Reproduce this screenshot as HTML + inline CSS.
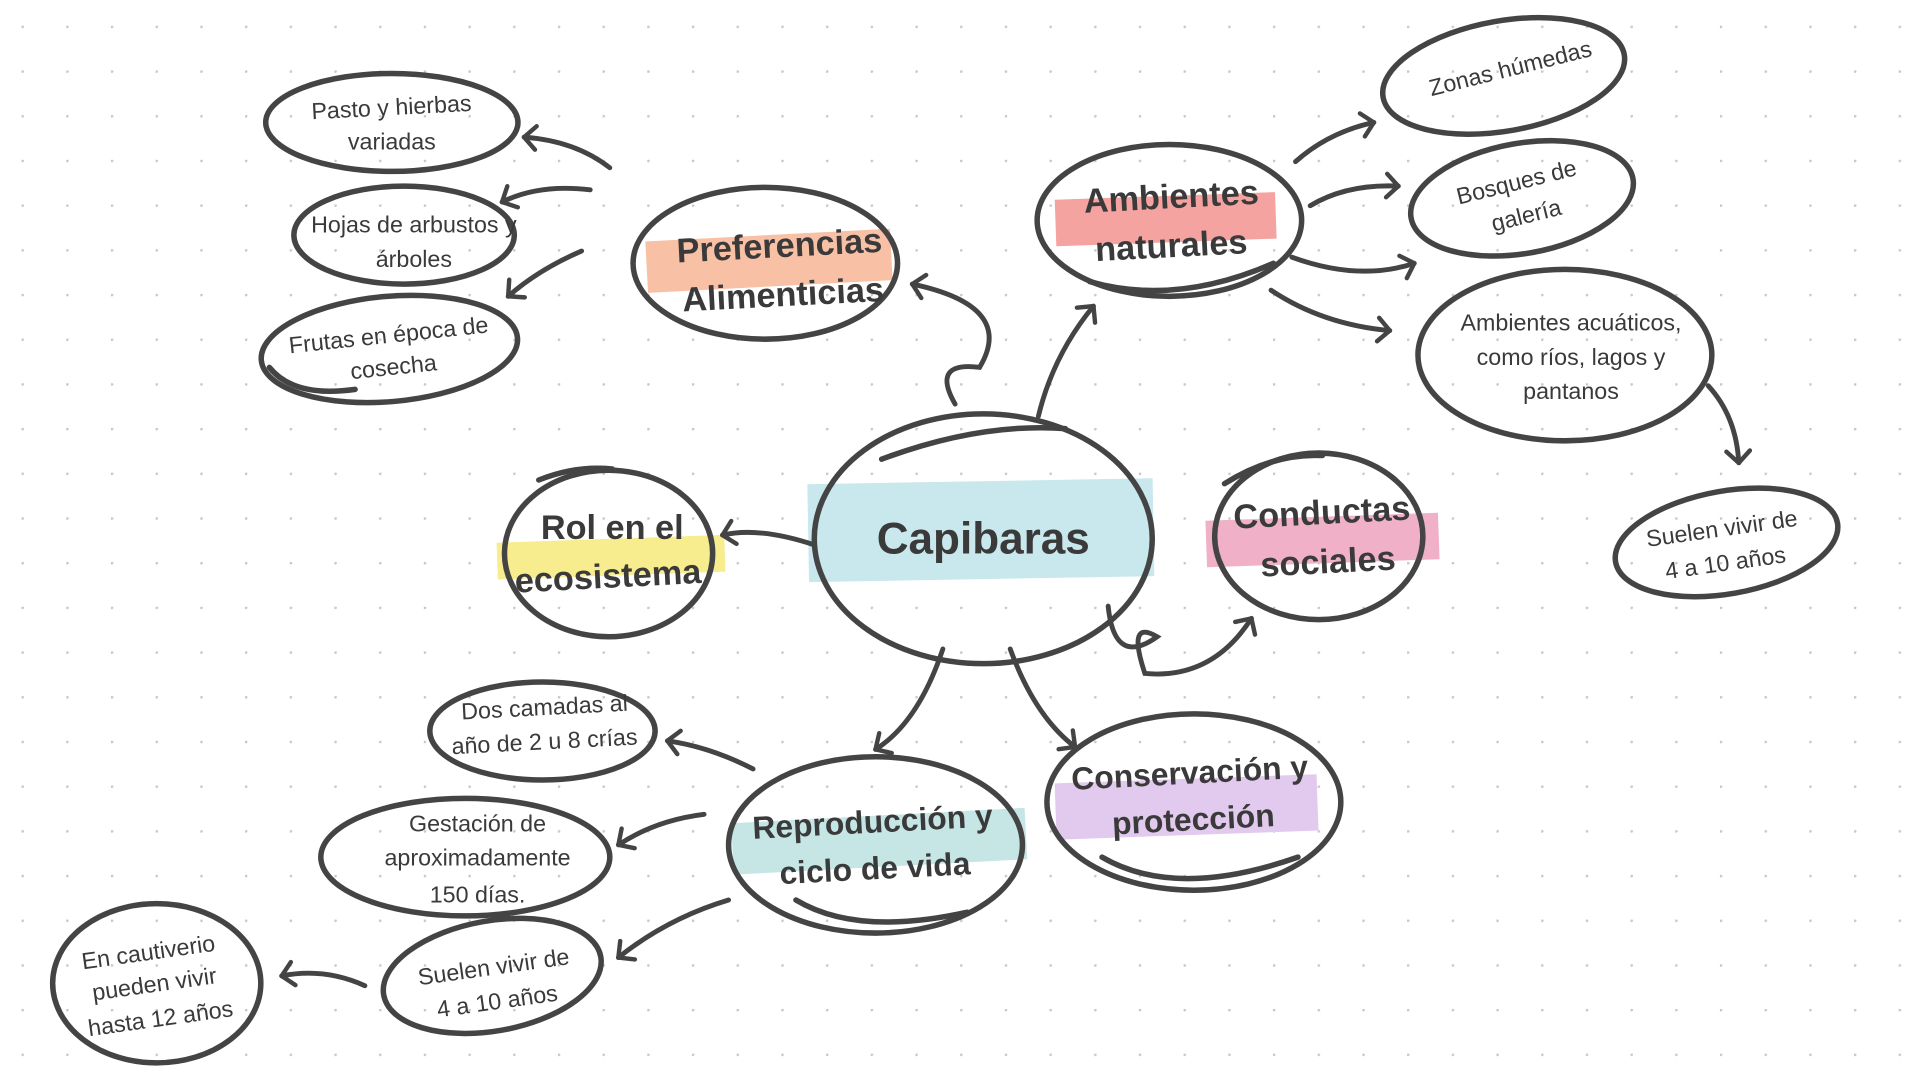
<!DOCTYPE html>
<html><head><meta charset="utf-8"><style>
html,body{margin:0;padding:0;background:#fff;}
svg{display:block}
text{font-family:"Liberation Sans Narrow","Liberation Sans",sans-serif;fill:#3a3a3a;text-anchor:middle;}
</style></head><body>
<svg width="1920" height="1080" viewBox="0 0 1568 882" xmlns="http://www.w3.org/2000/svg">
<defs>
<pattern id="dots" x="17.6" y="21" width="36.5" height="36.5" patternUnits="userSpaceOnUse">
<circle cx="0.8" cy="0.8" r="1.2" fill="#c8c8c8"/></pattern>
<marker id="ah" viewBox="0 0 20 20" refX="10" refY="10" markerWidth="6" markerHeight="6" orient="auto-start-reverse" markerUnits="strokeWidth">
<path d="M2 2 L10 10 L2 18" fill="none" stroke="#444" stroke-width="3" stroke-linecap="round" stroke-linejoin="round"/></marker>
</defs>
<rect width="1568" height="882" fill="#fff"/>
<rect width="1568" height="882" fill="url(#dots)"/>

<!-- highlights -->
<rect x="660" y="393" width="282" height="80" fill="#c8e8ee" transform="rotate(-1 800 433)"/>
<rect x="528" y="192" width="200" height="42" fill="#f8c0a4" transform="rotate(-3 628 213)"/>
<rect x="862" y="160" width="180" height="38" fill="#f5a3a0" transform="rotate(-2 952 180)"/>
<rect x="406" y="440" width="186" height="30" fill="#f7ec8e" transform="rotate(-2 500 455)"/>
<rect x="985" y="422" width="190" height="38" fill="#efb0c8" transform="rotate(-2 1080 440)"/>
<rect x="598" y="666" width="240" height="42" fill="#c6e6e6" transform="rotate(-3 718 687)"/>
<rect x="862" y="636" width="214" height="46" fill="#e2c9ee" transform="rotate(-2 970 658)"/>

<g fill="none" stroke="#444" stroke-width="4.5" stroke-linecap="round">
<!-- main ellipses -->
<ellipse cx="803" cy="440" rx="138" ry="102"/>
<path d="M720 375 Q800 345 870 350"/>
<ellipse cx="625" cy="215" rx="108" ry="62"/>
<ellipse cx="955" cy="180" rx="108" ry="62"/>
<path d="M890 230 Q960 250 1040 215"/>
<ellipse cx="497" cy="452" rx="85" ry="68"/>
<path d="M440 392 Q470 380 500 383"/>
<ellipse cx="1077" cy="438" rx="85" ry="68"/>
<path d="M1000 395 Q1040 370 1080 372"/>
<ellipse cx="715" cy="690" rx="120" ry="72"/>
<path d="M650 735 Q700 765 790 745"/>
<ellipse cx="975" cy="655" rx="120" ry="72"/>
<path d="M900 700 Q960 735 1060 700"/>
<!-- leaves -->
<ellipse cx="320" cy="100" rx="103" ry="40"/>
<ellipse cx="330" cy="192" rx="90" ry="40"/>
<ellipse cx="318" cy="285" rx="105" ry="43" transform="rotate(-5 318 285)"/>
<path d="M220 300 Q240 325 290 318"/>
<ellipse cx="1228" cy="62" rx="100" ry="45" transform="rotate(-10 1228 62)"/>
<ellipse cx="1243" cy="162" rx="92" ry="45" transform="rotate(-10 1243 162)"/>
<ellipse cx="1278" cy="290" rx="120" ry="70"/>
<ellipse cx="1410" cy="443" rx="92" ry="42" transform="rotate(-10 1410 443)"/>
<ellipse cx="443" cy="597" rx="92" ry="40"/>
<ellipse cx="380" cy="700" rx="118" ry="48"/>
<ellipse cx="402" cy="797" rx="90" ry="45" transform="rotate(-10 402 797)"/>
<ellipse cx="128" cy="803" rx="85" ry="65"/>
</g>

<!-- arrows -->
<g fill="none" stroke="#444" stroke-width="4" stroke-linecap="round" marker-end="url(#ah)">
<path d="M780 330 Q760 295 800 300 Q830 250 745 232"/>
<path d="M848 340 Q860 290 893 250"/>
<path d="M665 445 Q620 430 590 437"/>
<path d="M905 495 Q910 545 945 520 Q920 505 935 550 Q990 555 1022 505"/>
<path d="M770 530 Q750 590 715 612"/>
<path d="M825 530 Q845 585 878 610"/>
<path d="M498 137 Q470 115 428 112"/>
<path d="M482 155 Q440 150 410 165"/>
<path d="M475 205 Q440 220 415 242"/>
<path d="M1058 132 Q1085 108 1122 100"/>
<path d="M1070 168 Q1100 150 1142 152"/>
<path d="M1055 210 Q1110 230 1155 215"/>
<path d="M1038 237 Q1080 265 1135 270"/>
<path d="M1395 315 Q1418 340 1420 378"/>
<path d="M615 628 Q580 610 545 605"/>
<path d="M575 665 Q535 670 505 690"/>
<path d="M595 735 Q545 750 505 782"/>
<path d="M298 805 Q265 790 230 797"/>
</g>

<!-- texts -->
<g font-weight="bold">
<text x="803" y="452" font-size="36">Capibaras</text>
<text x="637" y="210" font-size="28" transform="rotate(-3 637 210)">Preferencias</text>
<text x="640" y="250" font-size="28" transform="rotate(-3 640 250)">Alimenticias</text>
<text x="957" y="170" font-size="28" transform="rotate(-3 957 170)">Ambientes</text>
<text x="957" y="210" font-size="28" transform="rotate(-3 957 210)">naturales</text>
<text x="500" y="440" font-size="28">Rol en el</text>
<text x="497" y="480" font-size="28" transform="rotate(-3 497 480)">ecosistema</text>
<text x="1080" y="428" font-size="28" transform="rotate(-3 1080 428)">Conductas</text>
<text x="1085" y="468" font-size="28" transform="rotate(-3 1085 468)">sociales</text>
<text x="713" y="680" font-size="26" transform="rotate(-3 713 680)">Reproducción y</text>
<text x="715" y="718" font-size="26" transform="rotate(-3 715 718)">ciclo de vida</text>
<text x="972" y="640" font-size="26" transform="rotate(-3 972 640)">Conservación y</text>
<text x="975" y="678" font-size="26" transform="rotate(-3 975 678)">protección</text>
</g>
<g font-size="19">
<text x="320" y="94" transform="rotate(-3 320 94)">Pasto y hierbas</text>
<text x="320" y="122">variadas</text>
<text x="338" y="190">Hojas de arbustos y</text>
<text x="338" y="218">árboles</text>
<text x="318" y="280" transform="rotate(-6 318 280)">Frutas en época de</text>
<text x="322" y="306" transform="rotate(-6 322 306)">cosecha</text>
<text x="1235" y="62" transform="rotate(-14 1235 62)">Zonas húmedas</text>
<text x="1240" y="155" transform="rotate(-14 1240 155)">Bosques de</text>
<text x="1248" y="182" transform="rotate(-14 1248 182)">galería</text>
<text x="1283" y="270">Ambientes acuáticos,</text>
<text x="1283" y="298">como ríos, lagos y</text>
<text x="1283" y="326">pantanos</text>
<text x="1407" y="438" transform="rotate(-8 1407 438)">Suelen vivir de</text>
<text x="1410" y="466" transform="rotate(-8 1410 466)">4 a 10 años</text>
<text x="445" y="584" transform="rotate(-3 445 584)">Dos camadas al</text>
<text x="445" y="612" transform="rotate(-3 445 612)">año de 2 u 8 crías</text>
<text x="390" y="679">Gestación de</text>
<text x="390" y="707">aproximadamente</text>
<text x="390" y="737">150 días.</text>
<text x="404" y="796" transform="rotate(-8 404 796)">Suelen vivir de</text>
<text x="407" y="824" transform="rotate(-8 407 824)">4 a 10 años</text>
<text x="122" y="784" transform="rotate(-8 122 784)">En cautiverio</text>
<text x="127" y="810" transform="rotate(-8 127 810)">pueden vivir</text>
<text x="132" y="838" transform="rotate(-8 132 838)">hasta 12 años</text>
</g>
</svg>
</body></html>
